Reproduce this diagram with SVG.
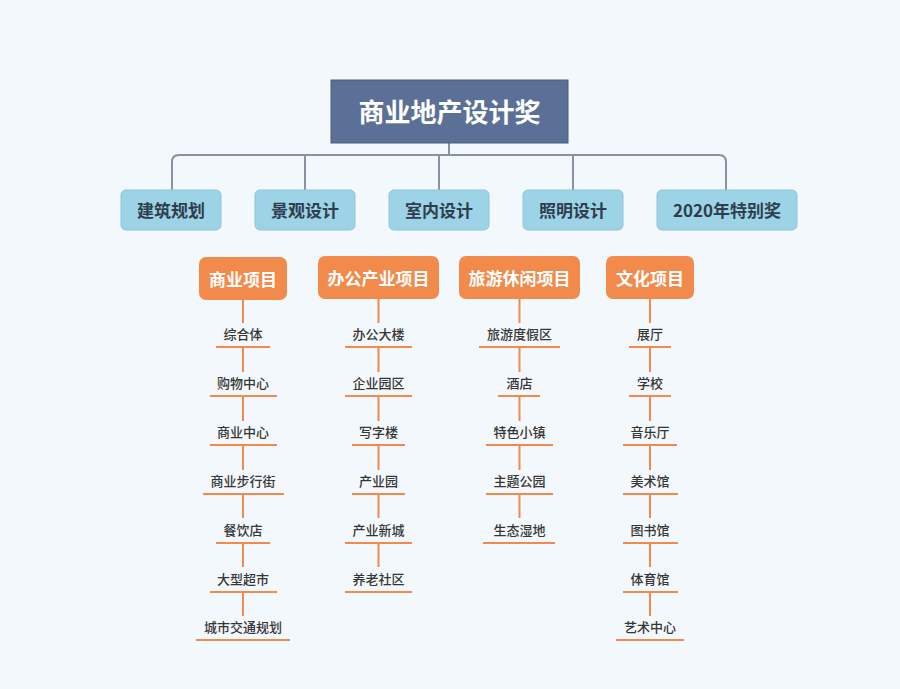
<svg xmlns="http://www.w3.org/2000/svg" width="900" height="689" viewBox="0 0 900 689">
<style>
.bg{fill:#f3f8fc}
.title{fill:#5b7096;stroke:#4a5d80;stroke-width:1}
.tt{font-family:"Noto Sans CJK SC","Liberation Sans",sans-serif;font-weight:bold;font-size:26px;fill:#ffffff;text-anchor:middle;dominant-baseline:central}
.l1{fill:#9dd3e6;stroke:#8cc6da;stroke-width:1}
.l1t{font-family:"Noto Sans CJK SC","Liberation Sans",sans-serif;font-weight:bold;font-size:17px;fill:#2f3d4d;text-anchor:middle;dominant-baseline:central}
.cat{fill:#f28a4b}
.catt{font-family:"Noto Sans CJK SC","Liberation Sans",sans-serif;font-weight:bold;font-size:17px;fill:#ffffff;text-anchor:middle;dominant-baseline:central}
.it{font-family:"Noto Sans CJK SC","Liberation Sans",sans-serif;font-weight:500;font-size:13px;fill:#363636;text-anchor:middle;dominant-baseline:central}
.gl{fill:none;stroke:#8793a3;stroke-width:2}
.ol{fill:none;stroke:#f08a4e;stroke-width:2}
</style>
<rect class="bg" x="0" y="0" width="900" height="689"/>
<g id="connectors">
<path class="gl" d="M449,143 V155 M172,190 V162 Q172,155 179,155 H719 Q726,155 726,162 V190 M305,190 V155 M439,190 V155 M573,190 V155"/>
<path class="ol" d="M243,300 V323 M243,347 V372 M243,396 V421 M243,445 V470 M243,494 V518 M243,543 V567 M243,592 V616"/>
<path class="ol" d="M378.5,299 V323 M378.5,347 V372 M378.5,396 V421 M378.5,445 V470 M378.5,494 V518 M378.5,543 V567"/>
<path class="ol" d="M519.5,299 V323 M519.5,347 V372 M519.5,396 V421 M519.5,445 V470 M519.5,494 V518"/>
<path class="ol" d="M650,299 V323 M650,347 V372 M650,396 V421 M650,445 V470 M650,494 V518 M650,543 V567 M650,592 V616"/>
</g>
<g id="root"><rect class="title" x="331" y="80" width="237" height="63"/><text class="tt" x="449.5" y="110.5">商业地产设计奖</text></g>
<g id="n1"><rect class="l1" x="121" y="190" width="100" height="40" rx="5"/><text class="l1t" x="171" y="209.5">建筑规划</text></g>
<g id="n2"><rect class="l1" x="255" y="190" width="100" height="40" rx="5"/><text class="l1t" x="305" y="209.5">景观设计</text></g>
<g id="n3"><rect class="l1" x="389" y="190" width="100" height="40" rx="5"/><text class="l1t" x="439" y="209.5">室内设计</text></g>
<g id="n4"><rect class="l1" x="523" y="190" width="100" height="40" rx="5"/><text class="l1t" x="573" y="209.5">照明设计</text></g>
<g id="n5"><rect class="l1" x="657" y="190" width="140" height="40" rx="5"/><text class="l1t" x="727" y="209.5">2020年特别奖</text></g>
<g id="c1"><rect class="cat" x="199" y="257" width="88" height="43" rx="7"/><text class="catt" x="243" y="278">商业项目</text></g>
<g id="c2"><rect class="cat" x="318" y="256" width="121" height="43" rx="7"/><text class="catt" x="378.5" y="277">办公产业项目</text></g>
<g id="c3"><rect class="cat" x="459" y="256" width="121" height="43" rx="7"/><text class="catt" x="519.5" y="277">旅游休闲项目</text></g>
<g id="c4"><rect class="cat" x="606" y="256" width="88" height="43" rx="7"/><text class="catt" x="650" y="277">文化项目</text></g>
<g id="col1">
<text class="it" x="243" y="333">综合体</text><path class="ol" d="M216,347 H270"/>
<text class="it" x="243" y="382">购物中心</text><path class="ol" d="M210,396 H277"/>
<text class="it" x="243" y="431">商业中心</text><path class="ol" d="M210,445 H277"/>
<text class="it" x="243" y="480">商业步行街</text><path class="ol" d="M203,494 H284"/>
<text class="it" x="243" y="529">餐饮店</text><path class="ol" d="M216,543 H270"/>
<text class="it" x="243" y="578">大型超市</text><path class="ol" d="M210,592 H277"/>
<text class="it" x="243" y="626">城市交通规划</text><path class="ol" d="M196,640 H290"/>
</g>
<g id="col2">
<text class="it" x="378.5" y="333">办公大楼</text><path class="ol" d="M345,347 H412"/>
<text class="it" x="378.5" y="382">企业园区</text><path class="ol" d="M345,396 H412"/>
<text class="it" x="378.5" y="431">写字楼</text><path class="ol" d="M352,445 H405"/>
<text class="it" x="378.5" y="480">产业园</text><path class="ol" d="M352,494 H405"/>
<text class="it" x="378.5" y="529">产业新城</text><path class="ol" d="M345,543 H412"/>
<text class="it" x="378.5" y="578">养老社区</text><path class="ol" d="M345,592 H412"/>
</g>
<g id="col3">
<text class="it" x="519.5" y="333">旅游度假区</text><path class="ol" d="M479,347 H560"/>
<text class="it" x="519.5" y="382">酒店</text><path class="ol" d="M498,396 H540"/>
<text class="it" x="519.5" y="431">特色小镇</text><path class="ol" d="M486,445 H553"/>
<text class="it" x="519.5" y="480">主题公园</text><path class="ol" d="M486,494 H553"/>
<text class="it" x="519.5" y="529">生态湿地</text><path class="ol" d="M483,543 H555"/>
</g>
<g id="col4">
<text class="it" x="650" y="333">展厅</text><path class="ol" d="M629,347 H671"/>
<text class="it" x="650" y="382">学校</text><path class="ol" d="M629,396 H671"/>
<text class="it" x="650" y="431">音乐厅</text><path class="ol" d="M623,445 H677"/>
<text class="it" x="650" y="480">美术馆</text><path class="ol" d="M623,494 H678"/>
<text class="it" x="650" y="529">图书馆</text><path class="ol" d="M623,543 H678"/>
<text class="it" x="650" y="578">体育馆</text><path class="ol" d="M623,592 H678"/>
<text class="it" x="650" y="626">艺术中心</text><path class="ol" d="M616,640 H684"/>
</g>
</svg>
